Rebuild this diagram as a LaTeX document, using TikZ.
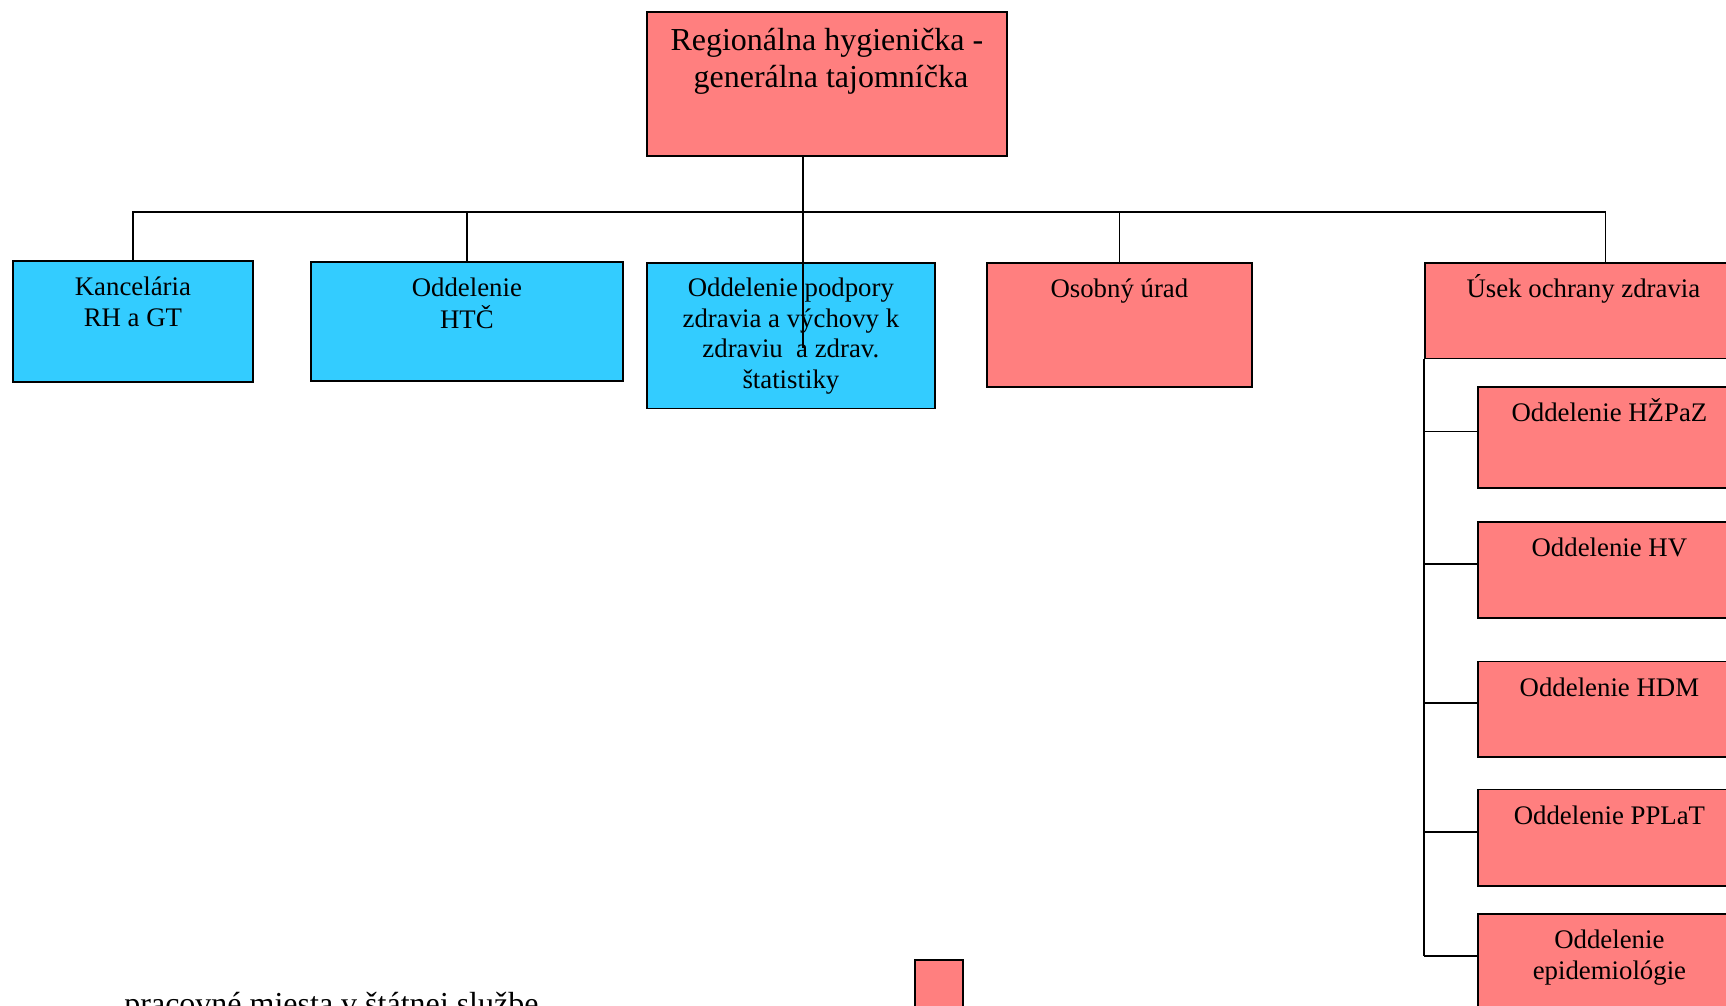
\documentclass[tikz,border=0pt]{standalone}
\usepackage{fontspec}
\setmainfont{Liberation Serif}
\definecolor{ruzova}{HTML}{FF7F7F}
\definecolor{modra}{HTML}{33CCFF}
\newcommand{\riadky}[1]{\begin{tabular}[t]{@{}c@{}}#1\end{tabular}}

\begin{document}
\begin{tikzpicture}[x=0.5pt,y=-0.5pt,
		box/.style={draw,line width=0.9pt,anchor=north west,inner sep=0pt},
		pinkbox/.style={box,fill=ruzova},
		bluebox/.style={box,fill=modra},
		boxtext/.style={anchor=base,inner sep=0pt,font=\fontsize{13.4}{15.4}\selectfont},
		spoj/.style={line width=0.9pt}]
		\useasboundingbox (0,0) rectangle (1726,1006);
		\clip (0,0) rectangle (1726,1006);

		% vedenie
		\node (rh) [pinkbox,minimum width=180pt,minimum height=72pt] at (646,11) {};
		\node [boxtext,font=\fontsize{16}{18.2}\selectfont] at ([yshift=-20pt]rh.north) {\riadky{Regionálna hygienička -\\ \ generálna tajomníčka}};

		% prvy riadok
		\node (kanc) [bluebox,minimum width=120pt,minimum height=60.5pt] at (12,260) {};
		\node [boxtext] at ([yshift=-17.75pt]kanc.north) {\riadky{Kancelária\\RH a GT}};
		\node (htc) [bluebox,minimum width=156pt,minimum height=59.5pt] at (310,261) {};
		\node [boxtext] at ([yshift=-17.75pt]htc.north) {\riadky{Oddelenie\\HTČ}};
		\node (podpora) [bluebox,minimum width=144pt,minimum height=72.8pt] at (646,262) {};
		\node [boxtext] at ([yshift=-17.2pt]podpora.north) {\riadky{Oddelenie podpory\\zdravia a výchovy k\\zdraviu\ \ a zdrav.\\štatistiky}};
		\node (osob) [pinkbox,minimum width=132.5pt,minimum height=62.2pt] at (986,262) {};
		\node [boxtext] at ([yshift=-17.75pt]osob.north) {Osobný úrad};
		\node (usek) [pinkbox,minimum width=158.5pt,minimum height=47.8pt] at (1424,262) {};
		\node [boxtext] at ([yshift=-17.75pt]usek.north) {Úsek ochrany zdravia};

		% oddelenia useku
		\node (hzpaz) [pinkbox,minimum width=131.5pt,minimum height=50.5pt] at (1477,386) {};
		\node [boxtext] at ([yshift=-17.75pt]hzpaz.north) {Oddelenie HŽPaZ};
		\node (hv) [pinkbox,minimum width=131.5pt,minimum height=48pt] at (1477,521) {};
		\node [boxtext] at ([yshift=-17.75pt]hv.north) {Oddelenie HV};
		\node (hdm) [pinkbox,minimum width=131.5pt,minimum height=47.75pt] at (1477,660.5) {};
		\node [boxtext] at ([yshift=-17.75pt]hdm.north) {Oddelenie HDM};
		\node (pplat) [pinkbox,minimum width=131.5pt,minimum height=48.3pt] at (1477,788.5) {};
		\node [boxtext] at ([yshift=-17.75pt]pplat.north) {Oddelenie PPLaT};
		\node (epid) [pinkbox,minimum width=131.5pt,minimum height=48pt] at (1477,913) {};
		\node [boxtext] at ([yshift=-17.75pt]epid.north) {\riadky{Oddelenie\\epidemiológie}};

		% legenda
		\node (vzor) [pinkbox,minimum width=24pt,minimum height=30pt] at (914,959) {};
		\node (popis) [anchor=base west,inner sep=0pt,font=\fontsize{16}{18}\selectfont] at (124,1014) {pracovné miesta v štátnej službe};

		% spojnice
		\coordinate (stem) at (803,348);
		\coordinate (busL) at (132,212.3);
		\coordinate (busR) at (1605.5,212.3);
		\draw[spoj] (rh.south -| stem) -- (stem);
		\draw[spoj] (kanc.north) -- (kanc.north |- busL) -- (busR) -- (busR |- usek.north);
		\draw[spoj] (htc.north) -- (htc.north |- busL);
		\draw[spoj] (osob.north) -- (osob.north |- busL);

		\coordinate (s1) at ([yshift=3pt]hzpaz.west);
		\coordinate (s2) at ([yshift=3pt]hv.west);
		\coordinate (s3) at ([yshift=3pt]hdm.west);
		\coordinate (s4) at ([yshift=3pt]pplat.west);
		\coordinate (s5) at ([yshift=3pt]epid.west);
		\draw[spoj] (usek.south west) -- (usek.south west |- s5);
		\draw[spoj] (s1) -- (s1 -| usek.west);
		\draw[spoj] (s2) -- (s2 -| usek.west);
		\draw[spoj] (s3) -- (s3 -| usek.west);
		\draw[spoj] (s4) -- (s4 -| usek.west);
		\draw[spoj] (s5) -- (s5 -| usek.west);
	\end{tikzpicture}
\end{document}
